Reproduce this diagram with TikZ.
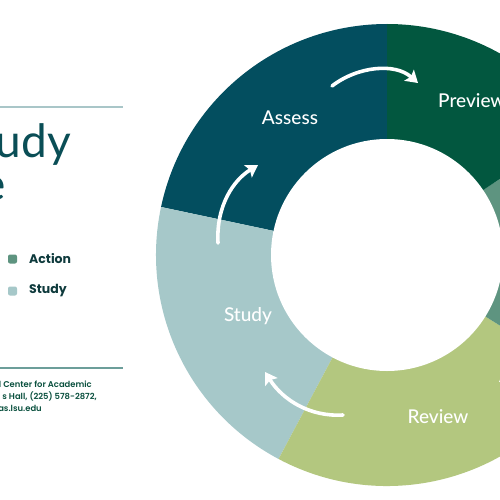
\documentclass[tikz,border=0pt]{standalone}
\usepackage{fontspec}
\setmainfont{Lato}
\newfontfamily\ringfont{Lato Medium}
\newfontfamily\titlefont{Lato}
\newfontfamily\popbold{Poppins}[UprightFont=* Bold]
\newfontfamily\popsemi{Poppins}[UprightFont=* SemiBold]
\usetikzlibrary{arrows.meta}
\definecolor{cassess}{HTML}{034E5F}
\definecolor{cpreview}{HTML}{02573F}
\definecolor{caction}{HTML}{5E9480}
\definecolor{creview}{HTML}{B3C77F}
\definecolor{cstudy}{HTML}{A6C8C9}
\definecolor{ctitle}{HTML}{0A4E56}
\definecolor{clineA}{HTML}{A9C6C8}
\definecolor{clineB}{HTML}{6C9E9A}
\definecolor{clegend}{HTML}{0E3A3C}
\definecolor{cfoot}{HTML}{0B513F}
\tikzset{
  ringlabel/.style={text=white, font=\ringfont\fontsize{19}{21}\selectfont, inner sep=0pt},
  cyclearrow/.style={draw=white, line width=3.6pt, line cap=round,
    -{Stealth[inset=2.5pt, length=12pt, width=15pt, line width=0pt]}},
  legendtext/.style={text=clegend, font=\popbold\fontsize{12.5}{14}\selectfont, inner sep=0pt, anchor=west},
  foottext/.style={text=cfoot, font=\popsemi\fontsize{8.4}{10}\selectfont, inner sep=0pt, anchor=base east},
  dot/.style={rounded corners=2pt, minimum size=9pt, inner sep=0pt}
}
\begin{document}
\begin{tikzpicture}[x=1pt,y=-1pt]
\useasboundingbox (0,0) rectangle (500,500);
\clip (0,0) rectangle (500,500);
\fill[white] (0,0) rectangle (500,500);
\coordinate (c) at (387,255);
% ring wedges (angles negated because y axis is flipped)
\fill[cassess]  (c) -- ++(-90:231)  arc[start angle=-90,  end angle=-168, radius=231] -- cycle;
\fill[cstudy]   (c) -- ++(-168:231) arc[start angle=-168, end angle=-242, radius=231] -- cycle;
\fill[creview]  (c) -- ++(-242:231) arc[start angle=-242, end angle=-328, radius=231] -- cycle;
\fill[caction]  (c) -- ++(-328:231) arc[start angle=-328, end angle=-394, radius=231] -- cycle;
\fill[cpreview] (c) -- ++(-34:231)  arc[start angle=-34,  end angle=-90,  radius=231] -- cycle;
\fill[white] (c) circle[radius=116];
% labels
\node[ringlabel] (assess) at (290,118) {Assess};
\node[ringlabel, anchor=base west] (preview) at (438,107) {Preview};
\node[ringlabel] (study) at (248,316) {Study};
\node[ringlabel] (review) at (438,417) {Review};
% arrows
\coordinate (a1s) at (332,86);  \coordinate (a1e) at (418,83);
\coordinate (a2s) at (218,243); \coordinate (a2e) at (258,165);
\coordinate (a3s) at (343,415); \coordinate (a3e) at (265,372);
\coordinate (a4s) at (556,300); \coordinate (a4e) at (499,382);
\draw[cyclearrow] (a1s) .. controls (358,66) and (395,63) .. (a1e);
\draw[cyclearrow] (a2s) .. controls (216,205) and (234,180) .. (a2e);
\draw[cyclearrow] (a3s) .. controls (310,417) and (283,400) .. (a3e);
\draw[cyclearrow] (a4s) .. controls (545,341) and (521,367) .. (a4e);
% left panel
\draw[clineA, line width=1.2pt] (-5,107) coordinate (l1a) -- (123,107) coordinate (l1b);
\node[text=ctitle, font=\titlefont\fontsize{46}{46}\selectfont, inner sep=0pt, anchor=base east] (t1) at (71,157) {Study};
\node[text=ctitle, font=\titlefont\fontsize{46}{46}\selectfont, inner sep=0pt, anchor=base east] (t2) at (6,200) {Cycle};
\node[dot, fill=caction] (d1) at (12.5,259) {};
\node[dot, fill=cstudy] (d2) at (12.5,291) {};
\node[legendtext] (lg1) at (29,259) {Action};
\node[legendtext] (lg2) at (29,291) {Study};
\draw[clineB, line width=1.2pt] (-5,368) coordinate (l2a) -- (123,368) coordinate (l2b);
\node[foottext] (f1) at (92,387) {l Center for Academic};
\node[foottext] (f2) at (97,399) {s Hall, (225) 578-2872,};
\node[foottext] (f3) at (42,411) {as.lsu.edu};
\end{tikzpicture}
\end{document}
